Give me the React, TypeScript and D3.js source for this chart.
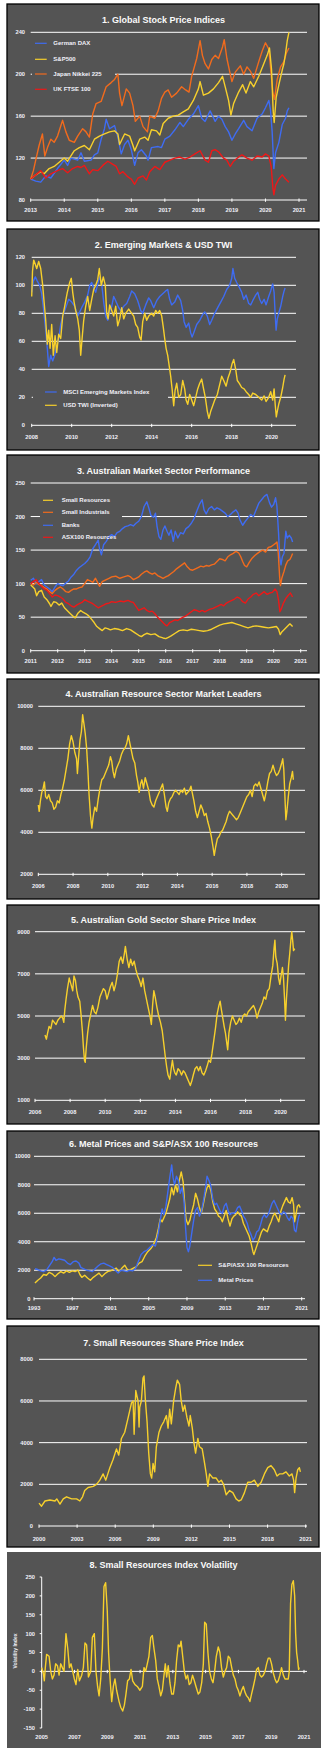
import React from 'react';
import * as d3 from 'd3';

type Pt = [number, number];

// ---------- Panel 1: Global stock price indices ----------
const p1Years = [2013, 2014, 2015, 2016, 2017, 2018, 2019, 2020, 2021];
const p1Ticks = [80, 120, 160, 200, 240];
const daxData: Pt[] = [[2013.0,100],[2013.15,98],[2013.3,97],[2013.45,103],[2013.6,101],[2013.8,110],[2014.0,118],[2014.1,113],[2014.2,120],[2014.4,118],[2014.5,125],[2014.6,117],[2014.8,118],[2014.9,123],[2015.0,125],[2015.1,138],[2015.2,148],[2015.25,157],[2015.35,148],[2015.5,151],[2015.6,140],[2015.7,124],[2015.8,133],[2015.9,137],[2016.0,128],[2016.1,113],[2016.2,125],[2016.3,128],[2016.45,122],[2016.5,118],[2016.6,130],[2016.8,131],[2016.9,130],[2017.0,138],[2017.15,141],[2017.3,147],[2017.45,154],[2017.55,150],[2017.7,157],[2017.85,162],[2018.0,170],[2018.1,158],[2018.2,155],[2018.35,165],[2018.5,155],[2018.6,160],[2018.7,157],[2018.8,150],[2018.9,145],[2019.0,137],[2019.1,143],[2019.2,148],[2019.35,156],[2019.45,150],[2019.6,146],[2019.75,158],[2019.9,162],[2020.0,168],[2020.1,175],[2020.15,166],[2020.2,145],[2020.25,110],[2020.3,125],[2020.4,135],[2020.5,152],[2020.6,158],[2020.65,165],[2020.7,168]];
const spxData: Pt[] = [[2013.0,100],[2013.15,104],[2013.3,107],[2013.4,105],[2013.55,110],[2013.7,112],[2013.85,116],[2014.0,120],[2014.1,117],[2014.3,127],[2014.45,130],[2014.6,132],[2014.75,128],[2014.9,138],[2015.05,141],[2015.2,143],[2015.35,145],[2015.5,146],[2015.6,143],[2015.65,133],[2015.8,143],[2015.95,141],[2016.05,132],[2016.1,127],[2016.25,138],[2016.4,140],[2016.5,137],[2016.6,147],[2016.75,146],[2016.85,142],[2016.95,153],[2017.1,158],[2017.25,160],[2017.4,161],[2017.55,164],[2017.7,167],[2017.85,175],[2018.0,186],[2018.05,193],[2018.15,180],[2018.3,182],[2018.45,186],[2018.6,192],[2018.72,198],[2018.8,188],[2018.9,175],[2018.97,161],[2019.05,172],[2019.2,183],[2019.32,190],[2019.42,182],[2019.55,193],[2019.65,188],[2019.8,198],[2019.95,210],[2020.05,218],[2020.12,225],[2020.18,205],[2020.23,165],[2020.26,154],[2020.32,178],[2020.4,190],[2020.5,204],[2020.55,210],[2020.6,220],[2020.65,232],[2020.7,240]];
const nikkeiData: Pt[] = [[2013.0,100],[2013.08,108],[2013.15,118],[2013.25,132],[2013.35,143],[2013.42,122],[2013.5,130],[2013.6,138],[2013.7,135],[2013.8,141],[2013.95,156],[2014.05,145],[2014.15,137],[2014.3,135],[2014.4,141],[2014.55,148],[2014.65,145],[2014.75,140],[2014.85,162],[2014.95,172],[2015.1,174],[2015.25,188],[2015.4,192],[2015.5,195],[2015.6,200],[2015.65,182],[2015.72,170],[2015.85,186],[2015.95,182],[2016.05,170],[2016.12,155],[2016.25,160],[2016.35,150],[2016.48,145],[2016.55,160],[2016.7,158],[2016.8,165],[2016.9,177],[2017.0,183],[2017.1,185],[2017.2,178],[2017.35,182],[2017.5,188],[2017.62,185],[2017.72,183],[2017.8,198],[2017.95,215],[2018.05,232],[2018.12,218],[2018.2,210],[2018.3,205],[2018.4,214],[2018.5,218],[2018.6,215],[2018.72,226],[2018.77,233],[2018.85,215],[2018.95,200],[2019.0,193],[2019.1,202],[2019.25,208],[2019.35,200],[2019.45,207],[2019.55,203],[2019.65,196],[2019.8,212],[2019.9,222],[2020.0,230],[2020.1,224],[2020.17,200],[2020.22,183],[2020.27,176],[2020.35,195],[2020.45,207],[2020.55,212],[2020.62,220],[2020.7,225]];
const ftseData: Pt[] = [[2013.0,100],[2013.15,104],[2013.3,108],[2013.45,101],[2013.6,105],[2013.8,108],[2013.95,110],[2014.1,106],[2014.25,110],[2014.4,112],[2014.5,111],[2014.6,113],[2014.75,105],[2014.85,109],[2015.0,108],[2015.15,113],[2015.3,117],[2015.45,114],[2015.55,112],[2015.65,105],[2015.75,107],[2015.9,102],[2016.0,100],[2016.1,95],[2016.2,101],[2016.35,103],[2016.45,99],[2016.55,107],[2016.7,112],[2016.85,109],[2017.0,116],[2017.15,118],[2017.3,120],[2017.45,121],[2017.6,119],[2017.75,121],[2017.9,124],[2018.05,127],[2018.2,118],[2018.3,116],[2018.4,127],[2018.5,128],[2018.6,126],[2018.75,120],[2018.85,118],[2018.95,112],[2019.05,117],[2019.2,121],[2019.3,123],[2019.45,120],[2019.6,118],[2019.75,122],[2019.9,121],[2020.0,124],[2020.1,122],[2020.17,112],[2020.22,92],[2020.25,85],[2020.3,94],[2020.4,100],[2020.5,104],[2020.6,100],[2020.7,97]];

// ---------- Panel 2: Emerging markets & USD TWI ----------
const p2Years = [2008, 2010, 2012, 2014, 2016, 2018, 2020];
const p2Ticks = [0, 20, 40, 60, 80, 100, 120];
const msciData: Pt[] = [[2008.0,95],[2008.08,103],[2008.18,106],[2008.28,103],[2008.4,100],[2008.5,94],[2008.6,82],[2008.7,68],[2008.78,55],[2008.85,42],[2008.95,50],[2009.05,46],[2009.15,50],[2009.25,56],[2009.35,62],[2009.45,72],[2009.55,78],[2009.7,84],[2009.85,90],[2010.0,88],[2010.15,85],[2010.3,78],[2010.4,81],[2010.5,84],[2010.65,88],[2010.8,93],[2010.9,100],[2011.0,102],[2011.1,98],[2011.2,95],[2011.3,101],[2011.4,106],[2011.5,101],[2011.6,88],[2011.7,78],[2011.8,75],[2011.9,82],[2012.0,85],[2012.1,92],[2012.2,89],[2012.35,84],[2012.45,82],[2012.6,85],[2012.75,87],[2012.9,92],[2013.0,96],[2013.15,94],[2013.3,89],[2013.45,82],[2013.55,80],[2013.7,86],[2013.85,91],[2013.95,89],[2014.1,84],[2014.25,89],[2014.4,92],[2014.55,94],[2014.7,96],[2014.8,97],[2014.9,90],[2015.0,86],[2015.15,88],[2015.3,93],[2015.45,89],[2015.55,82],[2015.62,74],[2015.72,70],[2015.85,73],[2015.95,66],[2016.02,63],[2016.1,66],[2016.25,72],[2016.4,75],[2016.55,79],[2016.65,81],[2016.78,78],[2016.9,72],[2017.0,75],[2017.15,80],[2017.3,84],[2017.45,88],[2017.6,92],[2017.75,97],[2017.9,100],[2018.0,105],[2018.06,112],[2018.15,105],[2018.25,102],[2018.4,98],[2018.5,95],[2018.6,90],[2018.72,93],[2018.85,87],[2018.95,86],[2019.05,89],[2019.2,93],[2019.3,95],[2019.4,90],[2019.5,87],[2019.62,90],[2019.72,86],[2019.85,92],[2019.95,96],[2020.05,101],[2020.12,95],[2020.17,80],[2020.22,68],[2020.28,76],[2020.35,80],[2020.45,85],[2020.55,92],[2020.62,96],[2020.67,98]];
const usdData: Pt[] = [[2008.0,92],[2008.04,110],[2008.1,118],[2008.18,115],[2008.25,112],[2008.35,117],[2008.45,112],[2008.55,100],[2008.62,88],[2008.7,75],[2008.78,58],[2008.85,68],[2008.92,55],[2009.0,72],[2009.08,50],[2009.17,64],[2009.25,52],[2009.35,65],[2009.45,62],[2009.55,78],[2009.65,85],[2009.78,95],[2009.9,102],[2009.98,105],[2010.05,95],[2010.12,88],[2010.2,82],[2010.3,76],[2010.38,68],[2010.45,50],[2010.52,62],[2010.6,75],[2010.7,85],[2010.8,92],[2010.9,82],[2011.0,90],[2011.1,97],[2011.2,100],[2011.3,104],[2011.38,112],[2011.48,100],[2011.58,106],[2011.68,100],[2011.75,80],[2011.82,76],[2011.9,86],[2012.0,82],[2012.1,78],[2012.2,85],[2012.3,71],[2012.4,76],[2012.5,84],[2012.6,76],[2012.7,80],[2012.85,83],[2013.0,80],[2013.1,78],[2013.2,72],[2013.3,70],[2013.4,63],[2013.47,61],[2013.55,74],[2013.65,80],[2013.75,75],[2013.85,78],[2014.0,80],[2014.1,78],[2014.2,82],[2014.3,80],[2014.4,82],[2014.5,78],[2014.58,70],[2014.65,62],[2014.72,55],[2014.8,50],[2014.88,42],[2014.95,35],[2015.02,26],[2015.1,14],[2015.17,25],[2015.25,30],[2015.35,20],[2015.45,22],[2015.55,32],[2015.65,26],[2015.72,18],[2015.8,15],[2015.9,22],[2016.0,18],[2016.1,14],[2016.2,20],[2016.3,26],[2016.4,30],[2016.5,33],[2016.58,27],[2016.68,20],[2016.78,10],[2016.86,5],[2016.95,10],[2017.05,14],[2017.15,18],[2017.28,22],[2017.38,28],[2017.5,35],[2017.6,32],[2017.72,28],[2017.82,34],[2017.92,38],[2018.02,44],[2018.1,47],[2018.2,40],[2018.28,32],[2018.38,30],[2018.5,27],[2018.62,26],[2018.72,24],[2018.85,22],[2018.95,20],[2019.05,23],[2019.2,22],[2019.35,20],[2019.5,18],[2019.62,21],[2019.72,17],[2019.85,20],[2019.95,24],[2020.05,18],[2020.12,26],[2020.18,14],[2020.23,6],[2020.28,10],[2020.35,15],[2020.45,20],[2020.55,27],[2020.62,33],[2020.67,36]];

// ---------- Panel 3: Australian market sectors ----------
const p3Years = [2011, 2012, 2013, 2014, 2015, 2016, 2017, 2018, 2019, 2020, 2021];
const p3Ticks = [0, 50, 100, 150, 200, 250];
const banksData: Pt[] = [[2011.0,105],[2011.1,108],[2011.2,100],[2011.3,103],[2011.4,106],[2011.5,98],[2011.6,95],[2011.7,92],[2011.8,88],[2011.9,95],[2012.0,100],[2012.1,98],[2012.2,97],[2012.3,101],[2012.4,104],[2012.5,110],[2012.6,114],[2012.7,120],[2012.8,124],[2012.9,127],[2013.0,130],[2013.1,134],[2013.2,140],[2013.3,152],[2013.4,158],[2013.5,165],[2013.55,152],[2013.62,143],[2013.7,158],[2013.8,163],[2013.9,170],[2014.0,173],[2014.1,170],[2014.2,176],[2014.3,178],[2014.4,182],[2014.5,185],[2014.6,186],[2014.7,188],[2014.8,186],[2014.9,190],[2015.0,193],[2015.1,200],[2015.2,215],[2015.3,222],[2015.38,212],[2015.45,202],[2015.55,199],[2015.62,205],[2015.68,185],[2015.75,170],[2015.82,166],[2015.9,180],[2015.97,186],[2016.05,178],[2016.12,172],[2016.2,180],[2016.28,163],[2016.35,178],[2016.45,168],[2016.55,176],[2016.65,174],[2016.75,182],[2016.85,185],[2016.95,190],[2017.05,197],[2017.15,208],[2017.25,218],[2017.35,225],[2017.42,210],[2017.5,204],[2017.6,212],[2017.7,215],[2017.8,210],[2017.9,213],[2018.0,211],[2018.1,208],[2018.2,205],[2018.3,200],[2018.4,203],[2018.5,207],[2018.6,210],[2018.68,205],[2018.75,195],[2018.85,187],[2018.95,193],[2019.05,198],[2019.15,203],[2019.25,200],[2019.35,210],[2019.45,220],[2019.55,225],[2019.65,230],[2019.75,233],[2019.85,220],[2019.92,214],[2020.0,218],[2020.07,228],[2020.12,215],[2020.18,175],[2020.22,140],[2020.27,128],[2020.32,140],[2020.38,145],[2020.45,178],[2020.5,168],[2020.58,172],[2020.65,168],[2020.7,162]];
const smallIndData: Pt[] = [[2011.0,100],[2011.1,98],[2011.2,102],[2011.3,99],[2011.4,97],[2011.5,94],[2011.6,92],[2011.7,88],[2011.8,85],[2011.9,90],[2012.0,93],[2012.1,95],[2012.2,92],[2012.3,88],[2012.4,87],[2012.5,90],[2012.6,92],[2012.7,92],[2012.8,94],[2012.9,95],[2013.0,100],[2013.1,106],[2013.2,104],[2013.3,102],[2013.4,108],[2013.5,100],[2013.55,96],[2013.65,103],[2013.8,106],[2013.9,108],[2014.0,110],[2014.15,111],[2014.3,108],[2014.45,110],[2014.6,112],[2014.7,110],[2014.8,106],[2014.9,108],[2015.0,110],[2015.1,114],[2015.2,117],[2015.3,119],[2015.4,116],[2015.5,114],[2015.6,116],[2015.7,112],[2015.8,110],[2015.9,108],[2016.0,110],[2016.1,112],[2016.2,115],[2016.3,118],[2016.4,122],[2016.5,125],[2016.6,128],[2016.7,131],[2016.8,125],[2016.9,121],[2017.0,120],[2017.1,122],[2017.2,124],[2017.3,126],[2017.4,125],[2017.5,127],[2017.6,126],[2017.7,128],[2017.8,129],[2017.9,133],[2018.0,137],[2018.1,136],[2018.2,134],[2018.3,140],[2018.4,143],[2018.5,145],[2018.6,148],[2018.7,146],[2018.78,140],[2018.85,133],[2018.92,127],[2019.0,125],[2019.1,132],[2019.2,138],[2019.3,142],[2019.4,145],[2019.5,148],[2019.6,150],[2019.7,147],[2019.8,154],[2019.9,155],[2020.0,158],[2020.07,160],[2020.12,162],[2020.17,145],[2020.22,110],[2020.25,97],[2020.3,108],[2020.38,118],[2020.45,128],[2020.52,134],[2020.6,136],[2020.65,140],[2020.7,145]];
const asxResData: Pt[] = [[2011.0,100],[2011.1,103],[2011.2,106],[2011.3,100],[2011.4,96],[2011.5,92],[2011.6,90],[2011.7,85],[2011.8,80],[2011.9,83],[2012.0,82],[2012.1,80],[2012.2,77],[2012.3,72],[2012.4,70],[2012.5,67],[2012.6,65],[2012.7,68],[2012.8,70],[2012.9,72],[2013.0,76],[2013.1,74],[2013.2,72],[2013.3,70],[2013.4,67],[2013.5,64],[2013.6,66],[2013.7,68],[2013.8,70],[2013.9,71],[2014.0,73],[2014.15,72],[2014.3,74],[2014.45,73],[2014.6,75],[2014.7,73],[2014.8,72],[2014.9,66],[2015.0,60],[2015.1,62],[2015.2,64],[2015.3,60],[2015.4,58],[2015.5,59],[2015.6,55],[2015.7,50],[2015.8,46],[2015.9,42],[2016.0,38],[2016.05,37],[2016.15,42],[2016.25,44],[2016.35,46],[2016.45,45],[2016.55,48],[2016.65,50],[2016.75,52],[2016.85,55],[2016.95,58],[2017.05,61],[2017.15,60],[2017.25,58],[2017.35,60],[2017.45,58],[2017.55,60],[2017.65,62],[2017.75,63],[2017.85,65],[2017.95,67],[2018.05,69],[2018.15,67],[2018.25,71],[2018.35,73],[2018.45,75],[2018.55,77],[2018.65,80],[2018.75,78],[2018.85,73],[2018.95,71],[2019.05,77],[2019.15,80],[2019.25,84],[2019.35,86],[2019.45,82],[2019.55,85],[2019.65,88],[2019.75,84],[2019.85,86],[2019.95,87],[2020.05,92],[2020.12,88],[2020.18,75],[2020.23,58],[2020.28,62],[2020.35,70],[2020.45,78],[2020.55,83],[2020.62,86],[2020.7,80]];
const smallResData: Pt[] = [[2011.0,98],[2011.08,95],[2011.15,92],[2011.22,82],[2011.3,88],[2011.4,90],[2011.5,80],[2011.6,76],[2011.7,70],[2011.75,66],[2011.85,73],[2011.95,72],[2012.05,68],[2012.15,71],[2012.25,64],[2012.35,60],[2012.45,56],[2012.55,52],[2012.65,49],[2012.75,56],[2012.85,60],[2012.95,57],[2013.05,55],[2013.15,52],[2013.25,47],[2013.35,42],[2013.45,36],[2013.55,33],[2013.65,30],[2013.75,34],[2013.85,33],[2013.95,31],[2014.1,33],[2014.25,32],[2014.4,30],[2014.55,33],[2014.7,31],[2014.85,27],[2015.0,23],[2015.1,21],[2015.2,24],[2015.3,26],[2015.45,24],[2015.6,25],[2015.75,21],[2015.9,19],[2016.0,18],[2016.1,20],[2016.2,22],[2016.35,26],[2016.5,30],[2016.65,31],[2016.8,30],[2016.95,32],[2017.1,31],[2017.25,30],[2017.4,29],[2017.55,30],[2017.7,32],[2017.85,35],[2018.0,38],[2018.15,40],[2018.3,41],[2018.45,42],[2018.6,40],[2018.75,38],[2018.9,36],[2019.05,34],[2019.2,36],[2019.35,37],[2019.5,36],[2019.65,35],[2019.8,34],[2019.95,35],[2020.1,36],[2020.18,32],[2020.24,24],[2020.3,28],[2020.4,32],[2020.5,36],[2020.6,40],[2020.7,36]];

// ---------- Panel 4: Resource sector market leaders ----------
const p4Years = [2006, 2008, 2010, 2012, 2014, 2016, 2018, 2020];
const p4Ticks = [2000, 4000, 6000, 8000, 10000];
const leadersData: Pt[] = [[2006.0,5300],[2006.05,5000],[2006.12,5500],[2006.2,5900],[2006.28,6100],[2006.35,6400],[2006.42,5700],[2006.5,5600],[2006.6,5800],[2006.7,5500],[2006.8,5400],[2006.9,5100],[2007.0,5200],[2007.1,5500],[2007.2,5400],[2007.3,5800],[2007.4,6100],[2007.5,6500],[2007.6,7000],[2007.7,7500],[2007.8,8200],[2007.9,8600],[2008.0,8300],[2008.1,7800],[2008.2,7500],[2008.25,6800],[2008.32,7600],[2008.4,8400],[2008.48,8800],[2008.55,9600],[2008.62,9200],[2008.7,8700],[2008.78,8000],[2008.85,7000],[2008.92,5800],[2009.0,4800],[2009.08,4200],[2009.15,4700],[2009.25,5200],[2009.35,5000],[2009.45,5600],[2009.55,6100],[2009.65,6500],[2009.75,6600],[2009.85,6800],[2009.95,7000],[2010.05,7200],[2010.15,7600],[2010.22,7400],[2010.3,6900],[2010.38,6600],[2010.48,7000],[2010.58,7200],[2010.68,7400],[2010.78,7700],[2010.88,7900],[2010.98,8000],[2011.08,8200],[2011.18,8600],[2011.25,8300],[2011.35,7900],[2011.45,7500],[2011.55,7300],[2011.65,6700],[2011.72,6400],[2011.8,5900],[2011.88,6300],[2011.96,6500],[2012.05,6100],[2012.15,6600],[2012.25,6300],[2012.35,6000],[2012.45,5500],[2012.55,5300],[2012.65,5200],[2012.75,5500],[2012.85,5700],[2012.95,5900],[2013.05,6100],[2013.15,6300],[2013.25,5800],[2013.35,5200],[2013.42,5000],[2013.5,5400],[2013.6,5600],[2013.7,5700],[2013.8,5900],[2013.9,6000],[2014.0,5900],[2014.1,5800],[2014.2,6000],[2014.3,5900],[2014.4,6100],[2014.5,5800],[2014.6,5900],[2014.7,6000],[2014.78,6200],[2014.85,5900],[2014.95,5500],[2015.05,5000],[2015.15,4700],[2015.25,5000],[2015.35,5300],[2015.45,5100],[2015.55,4800],[2015.65,4900],[2015.75,4500],[2015.85,4200],[2015.95,3800],[2016.05,3300],[2016.12,2900],[2016.2,3300],[2016.3,3700],[2016.4,3800],[2016.5,4000],[2016.6,4100],[2016.7,4300],[2016.8,4500],[2016.9,4800],[2017.0,5000],[2017.1,4900],[2017.2,4800],[2017.3,4700],[2017.4,4600],[2017.5,4700],[2017.6,4900],[2017.7,5100],[2017.8,5300],[2017.9,5500],[2018.0,5700],[2018.1,5800],[2018.2,6000],[2018.3,5700],[2018.4,6200],[2018.5,6300],[2018.6,6200],[2018.7,6400],[2018.8,6100],[2018.9,5800],[2019.0,5500],[2019.1,5900],[2019.2,6400],[2019.3,6800],[2019.4,6900],[2019.5,7200],[2019.6,6900],[2019.7,6700],[2019.8,6800],[2019.9,7000],[2020.0,7300],[2020.06,7500],[2020.12,7000],[2020.18,5800],[2020.24,4600],[2020.3,5000],[2020.38,5700],[2020.46,6300],[2020.55,6600],[2020.62,6900],[2020.67,6500]];

// ---------- Panel 5: Gold sector ----------
const p5Years = [2006, 2008, 2010, 2012, 2014, 2016, 2018, 2020];
const p5Ticks = [1000, 3000, 5000, 7000, 9000];
const goldData: Pt[] = [[2006.57,4100],[2006.65,3900],[2006.72,4200],[2006.8,4500],[2006.9,4400],[2007.0,4800],[2007.1,4700],[2007.2,4600],[2007.3,4800],[2007.4,4900],[2007.5,5000],[2007.58,4900],[2007.64,4700],[2007.7,5300],[2007.77,5800],[2007.85,6300],[2007.95,6800],[2008.05,6500],[2008.15,6200],[2008.22,6900],[2008.3,6700],[2008.38,6200],[2008.45,5900],[2008.55,5700],[2008.62,5100],[2008.7,4300],[2008.76,3500],[2008.82,2900],[2008.86,2800],[2008.92,3500],[2009.0,4200],[2009.08,4700],[2009.18,5100],[2009.28,5500],[2009.38,5200],[2009.48,5100],[2009.58,5400],[2009.7,5900],[2009.8,6100],[2009.9,6300],[2010.0,6200],[2010.1,5800],[2010.2,6100],[2010.3,6400],[2010.4,6600],[2010.5,6200],[2010.6,6500],[2010.7,7000],[2010.8,7600],[2010.9,7800],[2011.0,7500],[2011.1,8000],[2011.15,8300],[2011.25,7700],[2011.35,7300],[2011.45,7700],[2011.55,7400],[2011.65,7600],[2011.75,7200],[2011.85,6900],[2011.95,6700],[2012.05,6400],[2012.15,6800],[2012.25,6200],[2012.35,5800],[2012.45,5400],[2012.55,5000],[2012.63,4600],[2012.7,5500],[2012.77,6200],[2012.85,5900],[2012.95,5400],[2013.05,5000],[2013.15,4700],[2013.25,4300],[2013.35,3600],[2013.42,3100],[2013.5,2600],[2013.58,2200],[2013.68,2000],[2013.76,2500],[2013.83,2900],[2013.9,2500],[2013.97,2300],[2014.05,2200],[2014.15,2500],[2014.25,2400],[2014.35,2200],[2014.45,2400],[2014.55,2300],[2014.65,2100],[2014.75,1900],[2014.85,1700],[2014.93,1900],[2015.02,2200],[2015.12,2500],[2015.22,2600],[2015.32,2400],[2015.42,2600],[2015.52,2300],[2015.62,2200],[2015.72,2400],[2015.8,2600],[2015.9,2900],[2016.0,2800],[2016.08,3200],[2016.18,3800],[2016.28,4400],[2016.38,5100],[2016.48,5500],[2016.55,5700],[2016.62,5300],[2016.7,4900],[2016.78,4500],[2016.85,4200],[2016.93,3700],[2016.98,3400],[2017.05,4200],[2017.15,4700],[2017.25,5000],[2017.35,4800],[2017.45,4600],[2017.55,4700],[2017.65,4900],[2017.75,4700],[2017.85,5000],[2017.95,5100],[2018.05,5000],[2018.15,5200],[2018.25,5300],[2018.35,5400],[2018.45,5500],[2018.55,5300],[2018.65,4900],[2018.75,5200],[2018.85,5400],[2018.95,5600],[2019.05,5900],[2019.15,5800],[2019.25,6200],[2019.35,6300],[2019.45,6900],[2019.55,7400],[2019.62,8200],[2019.67,8600],[2019.72,7800],[2019.8,7500],[2019.88,6800],[2019.95,6500],[2020.02,6900],[2020.1,7300],[2020.16,6800],[2020.22,5800],[2020.27,4800],[2020.32,5700],[2020.38,6500],[2020.45,7400],[2020.52,8000],[2020.58,8600],[2020.63,9000],[2020.68,8600],[2020.73,8100],[2020.8,8200]];

// ---------- Panel 6: Metal prices & S&P/ASX 100 Resources ----------
const p6Years = [1993, 1997, 2001, 2005, 2009, 2013, 2017, 2021];
const p6Ticks = [0, 2000, 4000, 6000, 8000, 10000];
const asx100ResData: Pt[] = [[1993.1,1100],[1993.4,1300],[1993.7,1450],[1994.0,1700],[1994.3,1650],[1994.6,1850],[1994.9,1750],[1995.2,1550],[1995.5,1750],[1995.8,1900],[1996.1,1800],[1996.4,1950],[1996.7,1850],[1997.0,1950],[1997.3,1900],[1997.6,2000],[1997.8,1700],[1998.0,1500],[1998.3,1650],[1998.6,1450],[1998.9,1300],[1999.2,1500],[1999.5,1650],[1999.8,1800],[2000.1,1550],[2000.4,1750],[2000.7,1900],[2001.0,1950],[2001.3,2050],[2001.6,2150],[2001.9,1900],[2002.2,2150],[2002.5,2350],[2002.8,2000],[2003.1,2050],[2003.4,2150],[2003.7,2250],[2004.0,2500],[2004.3,2600],[2004.6,3000],[2004.9,3300],[2005.2,3500],[2005.5,3800],[2005.8,4300],[2006.0,4900],[2006.2,5600],[2006.4,5400],[2006.6,5700],[2006.8,6000],[2007.0,6500],[2007.2,7000],[2007.4,7800],[2007.6,7300],[2007.8,8000],[2008.0,7500],[2008.2,8300],[2008.4,8900],[2008.6,8200],[2008.75,6800],[2008.9,5600],[2009.1,5200],[2009.3,5500],[2009.5,6100],[2009.7,6600],[2009.9,7400],[2010.1,7000],[2010.3,6400],[2010.5,6000],[2010.7,6600],[2010.9,7300],[2011.1,7800],[2011.3,8000],[2011.5,7600],[2011.7,6800],[2011.9,6300],[2012.1,6100],[2012.3,5800],[2012.5,5700],[2012.7,5400],[2012.9,5800],[2013.1,6200],[2013.3,5600],[2013.5,5100],[2013.7,5600],[2013.9,5800],[2014.1,5900],[2014.3,6100],[2014.5,5900],[2014.7,5800],[2014.9,5300],[2015.1,5000],[2015.3,4700],[2015.5,4400],[2015.7,3900],[2015.9,3300],[2016.0,3100],[2016.2,3500],[2016.4,3900],[2016.6,4300],[2016.8,4700],[2017.0,4900],[2017.2,4800],[2017.4,4700],[2017.6,5100],[2017.8,5400],[2018.0,5800],[2018.2,6000],[2018.4,5700],[2018.6,5400],[2018.8,6100],[2019.0,6500],[2019.2,6800],[2019.4,7100],[2019.6,6800],[2019.8,6700],[2020.0,7100],[2020.15,6600],[2020.25,5400],[2020.4,5900],[2020.55,6500],[2020.7,6600],[2020.85,6400]];
const metalData: Pt[] = [[1993.1,2100],[1993.4,2050],[1993.7,1950],[1994.0,1900],[1994.3,2000],[1994.6,2300],[1994.9,2600],[1995.1,2900],[1995.3,2700],[1995.6,2800],[1995.9,2750],[1996.2,2700],[1996.5,2500],[1996.8,2400],[1997.1,2600],[1997.4,2650],[1997.7,2500],[1997.9,2200],[1998.2,2100],[1998.5,2000],[1998.8,1950],[1999.1,1900],[1999.4,2100],[1999.7,2300],[2000.0,2450],[2000.3,2500],[2000.6,2400],[2000.9,2300],[2001.2,2200],[2001.5,2000],[2001.8,1800],[2002.1,2000],[2002.4,1950],[2002.7,1900],[2003.0,2000],[2003.3,1950],[2003.6,2100],[2003.9,2600],[2004.2,3100],[2004.5,3300],[2004.8,3400],[2005.1,3600],[2005.4,3800],[2005.7,3700],[2006.0,4600],[2006.2,5500],[2006.4,6300],[2006.6,5900],[2006.8,6500],[2007.0,7500],[2007.2,8500],[2007.4,9400],[2007.55,8500],[2007.7,8000],[2007.9,8600],[2008.1,8300],[2008.3,7400],[2008.5,7800],[2008.7,6800],[2008.85,5000],[2009.0,3600],[2009.15,3300],[2009.3,3700],[2009.5,4600],[2009.7,5500],[2009.9,6200],[2010.1,6400],[2010.3,5800],[2010.5,6100],[2010.7,6800],[2010.9,7600],[2011.1,8600],[2011.3,8300],[2011.5,7900],[2011.7,7000],[2011.9,6600],[2012.1,6700],[2012.3,6400],[2012.5,6100],[2012.7,6000],[2012.9,6500],[2013.1,6700],[2013.3,6200],[2013.5,5900],[2013.7,6000],[2013.9,6000],[2014.1,6100],[2014.3,6400],[2014.5,6500],[2014.7,6200],[2014.9,5800],[2015.1,5600],[2015.3,5300],[2015.5,4800],[2015.7,4500],[2015.9,4100],[2016.1,4300],[2016.3,4700],[2016.5,4800],[2016.7,5200],[2016.9,5700],[2017.1,5900],[2017.3,5700],[2017.5,5900],[2017.7,6300],[2017.9,6700],[2018.1,6900],[2018.3,6600],[2018.5,6300],[2018.7,6000],[2018.9,5900],[2019.1,6100],[2019.3,6000],[2019.5,5700],[2019.7,5500],[2019.9,5800],[2020.1,5600],[2020.25,4800],[2020.4,4700],[2020.55,5300],[2020.7,5800],[2020.8,5900]];

// ---------- Panel 7: Small resources share price index ----------
const p7Years = [2000, 2003, 2006, 2009, 2012, 2015, 2018, 2021];
const p7Ticks = [0, 2000, 4000, 6000, 8000];
const smallResIdxData: Pt[] = [[2000.0,1100],[2000.2,950],[2000.47,1200],[2000.86,1250],[2001.26,1200],[2001.4,1300],[2001.65,1050],[2001.91,1300],[2002.17,1400],[2002.57,1300],[2002.96,1300],[2003.22,1200],[2003.43,1400],[2003.6,1700],[2003.87,1850],[2004.27,1900],[2004.53,2000],[2004.79,2200],[2005.05,2500],[2005.26,2200],[2005.58,2800],[2005.84,3200],[2006.1,3700],[2006.28,3400],[2006.49,4200],[2006.75,4500],[2007.02,5200],[2007.28,5900],[2007.41,6000],[2007.49,4400],[2007.62,6500],[2007.8,6000],[2007.88,4750],[2007.93,5700],[2008.06,6000],[2008.19,7100],[2008.27,7200],[2008.38,6000],[2008.51,5000],[2008.64,3500],[2008.77,2500],[2008.87,2300],[2008.98,3000],[2009.11,2600],[2009.24,3800],[2009.45,4500],[2009.63,4800],[2009.82,5000],[2010.03,5300],[2010.16,4700],[2010.29,5600],[2010.42,4900],[2010.6,6000],[2010.76,6600],[2010.89,7000],[2011.07,6800],[2011.2,6000],[2011.34,5500],[2011.47,5800],[2011.65,5200],[2011.81,4800],[2011.91,5300],[2012.07,4700],[2012.2,4000],[2012.33,3500],[2012.51,4200],[2012.64,3800],[2012.85,3700],[2013.04,3000],[2013.17,2500],[2013.3,1900],[2013.43,2500],[2013.69,2300],[2013.95,2300],[2014.16,2100],[2014.35,2200],[2014.53,2000],[2014.74,1500],[2015.0,1700],[2015.26,1600],[2015.52,1300],[2015.73,1200],[2015.92,1250],[2016.18,1600],[2016.44,2100],[2016.7,2100],[2016.96,2200],[2017.23,1900],[2017.49,2100],[2017.75,2500],[2018.01,2800],[2018.27,2900],[2018.53,2700],[2018.74,2400],[2018.93,2500],[2019.19,2500],[2019.45,2600],[2019.71,2400],[2019.92,2500],[2020.05,2200],[2020.13,1600],[2020.24,2300],[2020.37,2700],[2020.5,2800],[2020.58,2600]];

// ---------- Panel 8: Small resources index volatility ----------
const p8Years = [2005, 2007, 2009, 2011, 2013, 2015, 2017, 2019, 2021];
const p8Ticks = [-150, -100, -50, 0, 50, 100, 150, 200, 250];
const volData: Pt[] = [[2005.0,10],[2005.1,-5],[2005.16,-25],[2005.22,10],[2005.3,45],[2005.45,40],[2005.55,0],[2005.65,-20],[2005.75,-10],[2005.85,20],[2005.96,15],[2006.06,-10],[2006.16,20],[2006.26,10],[2006.36,0],[2006.48,100],[2006.59,60],[2006.69,10],[2006.79,20],[2006.89,0],[2006.99,-20],[2007.09,-35],[2007.2,5],[2007.3,-25],[2007.44,-10],[2007.54,10],[2007.64,75],[2007.74,70],[2007.85,-15],[2007.99,0],[2008.09,90],[2008.21,100],[2008.31,0],[2008.41,-40],[2008.5,-65],[2008.6,-20],[2008.7,60],[2008.8,225],[2008.9,235],[2009.0,160],[2009.08,50],[2009.17,-20],[2009.27,-80],[2009.37,-40],[2009.47,-20],[2009.57,-50],[2009.72,-80],[2009.82,-95],[2009.94,-105],[2010.04,-90],[2010.14,-60],[2010.24,-25],[2010.35,-20],[2010.45,5],[2010.55,-25],[2010.69,-35],[2010.83,-40],[2010.99,-50],[2011.14,-40],[2011.24,10],[2011.34,0],[2011.44,20],[2011.54,40],[2011.65,90],[2011.75,95],[2011.85,60],[2011.95,30],[2012.05,-20],[2012.15,-40],[2012.26,-65],[2012.36,-50],[2012.46,-10],[2012.54,20],[2012.62,-15],[2012.72,15],[2012.82,-30],[2012.93,-60],[2013.03,-60],[2013.13,-30],[2013.23,30],[2013.33,70],[2013.43,65],[2013.5,80],[2013.6,40],[2013.7,0],[2013.8,-20],[2013.9,-10],[2014.0,-35],[2014.1,-30],[2014.2,-10],[2014.31,-25],[2014.41,-40],[2014.55,-60],[2014.65,-55],[2014.76,-30],[2014.86,20],[2014.94,130],[2015.04,125],[2015.14,50],[2015.24,0],[2015.35,-20],[2015.45,-30],[2015.55,0],[2015.65,40],[2015.77,65],[2015.87,50],[2015.97,10],[2016.08,-15],[2016.18,0],[2016.28,10],[2016.38,40],[2016.48,35],[2016.59,10],[2016.69,-10],[2016.79,-20],[2016.89,-40],[2016.99,-50],[2017.09,-65],[2017.2,-50],[2017.3,-40],[2017.4,-55],[2017.5,-65],[2017.6,-70],[2017.7,-80],[2017.8,-60],[2017.91,-40],[2018.01,-20],[2018.11,5],[2018.21,10],[2018.31,-10],[2018.41,-15],[2018.52,-10],[2018.62,0],[2018.72,20],[2018.82,35],[2018.92,35],[2019.02,20],[2019.13,-5],[2019.23,-20],[2019.33,-30],[2019.43,-25],[2019.53,-10],[2019.63,10],[2019.74,-10],[2019.84,-20],[2019.94,-20],[2020.04,-20],[2020.1,0],[2020.18,180],[2020.26,230],[2020.35,240],[2020.43,200],[2020.49,100],[2020.55,50],[2020.61,30],[2020.67,5],[2020.71,10]];

const BG = '#545454';
const TXT = '#f0f0f8';
const FONT = '"Liberation Sans", Arial, sans-serif';
const BLUE = '#3f6cf2';
const YELLOW = '#f7d02c';
const ORANGE = '#f26b1d';
const RED = '#ee1818';

interface SeriesDef { data: Pt[]; color: string }
interface LegendDef { label: string; color: string; y: number }
interface PanelProps {
  box: [number, number, number, number];
  border?: boolean;
  title: string;
  titleY: number;
  xDomain: [number, number];
  xRange: [number, number];
  yDomain: [number, number];
  yRange: [number, number];
  gridEnd: number;
  xTicks: number[];
  yTicks: number[];
  yLabelX: number;
  xLabelY: number;
  series: SeriesDef[];
  legend?: LegendDef[];
  legendSym?: [number, number, number];
  legendBox?: [number, number, number, number];
  volatility?: boolean;
}

function Panel(p: PanelProps) {
  const x = d3.scaleLinear().domain(p.xDomain).range(p.xRange);
  const y = d3.scaleLinear().domain(p.yDomain).range(p.yRange);
  const line = d3.line<Pt>().x(d => x(d[0])).y(d => y(d[1]));
  const gx0 = x(p.xTicks[0]);
  const axisY = p.volatility ? y(0) : y(p.yDomain[0]);
  const [bx, by, bw, bh] = p.box;
  return (
    <g>
      <rect x={bx} y={by} width={bw} height={bh} fill={BG}
        stroke={p.border === false ? 'none' : '#000'} strokeWidth={1.3} />
      <text x={163.5} y={p.titleY} textAnchor="middle" dy="0.35em" fill="#fafafa"
        fontFamily={FONT} fontWeight="bold" fontSize={9}>{p.title}</text>
      {!p.volatility && p.yTicks.map(t => (
        <line key={'g' + t} x1={gx0} x2={p.gridEnd} y1={y(t)} y2={y(t)} stroke="#fff" strokeWidth={1} />
      ))}
      {p.volatility && (
        <g>
          <line x1={gx0} x2={gx0} y1={y(p.yDomain[1])} y2={y(p.yDomain[0])} stroke="#fff" strokeWidth={1} />
          {p.yTicks.map(t => (
            <line key={'yt' + t} x1={gx0 - 2} x2={gx0} y1={y(t)} y2={y(t)} stroke="#fff" strokeWidth={1} />
          ))}
          <line x1={gx0} x2={p.gridEnd} y1={axisY} y2={axisY} stroke="#fff" strokeWidth={1} />
        </g>
      )}
      {p.xTicks.map(t => (
        <line key={'xt' + t} x1={x(t)} x2={x(t)} y1={axisY - 1.5} y2={axisY + 1.8} stroke="#fff" strokeWidth={1} />
      ))}
      {p.yTicks.map(t => (
        <text key={'yl' + t} x={p.yLabelX} y={y(t)} dy="0.35em" textAnchor="end" fill={TXT}
          fontFamily={FONT} fontWeight="bold" fontSize={5.7}>{t}</text>
      ))}
      {p.xTicks.map(t => (
        <text key={'xl' + t} x={x(t)} y={p.xLabelY} dy="0.35em" textAnchor="middle" fill={TXT}
          fontFamily={FONT} fontWeight="bold" fontSize={5.7}>{t}</text>
      ))}
      {p.legendBox && (
        <rect x={p.legendBox[0]} y={p.legendBox[1]} width={p.legendBox[2]} height={p.legendBox[3]} fill={BG} />
      )}
      {p.series.map((s, i) => (
        <path key={'s' + i} d={line(s.data) || ''} fill="none" stroke={s.color} strokeWidth={1.4}
          strokeLinejoin="round" />
      ))}
      {p.legend && p.legendSym && p.legend.map(l => (
        <g key={l.label}>
          <line x1={p.legendSym![0]} x2={p.legendSym![1]} y1={l.y} y2={l.y} stroke={l.color} strokeWidth={1.2} />
          <text x={p.legendSym![2]} y={l.y} dy="0.35em" fill={TXT} fontFamily={FONT}
            fontWeight="bold" fontSize={6}>{l.label}</text>
        </g>
      ))}
    </g>
  );
}

export default function App() {
  return (
    <svg width={327} height={1749} style={{ position: 'absolute', left: 0, top: 0 }}>
      <rect x={0} y={0} width={327} height={1749} fill="#fff" />
      <Panel box={[7, 4, 312, 217]} title="1.  Global Stock Price Indices" titleY={20}
        xDomain={[2013, 2021]} xRange={[30.7, 299]} yDomain={[80, 240]} yRange={[200, 32.3]}
        gridEnd={307} xTicks={p1Years} yTicks={p1Ticks} yLabelX={25} xLabelY={210}
        legendBox={[32, 36, 83, 60]} legendSym={[35, 46.7, 53.3]}
        legend={[
          { label: 'German DAX', color: BLUE, y: 43.3 },
          { label: 'S&P500', color: YELLOW, y: 59.3 },
          { label: 'Japan Nikkei 225', color: ORANGE, y: 74 },
          { label: 'UK FTSE 100', color: RED, y: 89.3 },
        ]}
        series={[
          { data: daxData, color: BLUE },
          { data: nikkeiData, color: ORANGE },
          { data: spxData, color: YELLOW },
          { data: ftseData, color: RED },
        ]} />
      <Panel box={[7, 229, 312, 221]} title="2. Emerging Markets & USD TWI" titleY={244.7}
        xDomain={[2008, 2020]} xRange={[31.7, 271.7]} yDomain={[0, 120]} yRange={[425.3, 257.3]}
        gridEnd={296} xTicks={p2Years} yTicks={p2Ticks} yLabelX={25} xLabelY={437}
        legendBox={[33, 385, 135, 27]} legendSym={[45, 56.7, 63.3]}
        legend={[
          { label: 'MSCI Emerging Markets Index', color: BLUE, y: 392 },
          { label: 'USD TWI (Inverted)', color: YELLOW, y: 405.3 },
        ]}
        series={[
          { data: msciData, color: BLUE },
          { data: usdData, color: YELLOW },
        ]} />
      <Panel box={[7, 455, 312, 218]} title="3.  Australian Market Sector Performance" titleY={470.7}
        xDomain={[2011, 2021]} xRange={[30.7, 300.7]} yDomain={[0, 250]} yRange={[650.7, 483]}
        gridEnd={307} xTicks={p3Years} yTicks={p3Ticks} yLabelX={25} xLabelY={661.3}
        legendBox={[40, 494, 82, 49]} legendSym={[43, 53, 61.7]}
        legend={[
          { label: 'Small Resources', color: YELLOW, y: 500.3 },
          { label: 'Small Industrials', color: ORANGE, y: 512.3 },
          { label: 'Banks', color: BLUE, y: 525.3 },
          { label: 'ASX100 Resources', color: RED, y: 537.3 },
        ]}
        series={[
          { data: banksData, color: BLUE },
          { data: smallIndData, color: ORANGE },
          { data: asxResData, color: RED },
          { data: smallResData, color: YELLOW },
        ]} />
      <Panel box={[7, 679, 312, 220]} title="4. Australian Resource Sector Market Leaders" titleY={694}
        xDomain={[2006, 2020]} xRange={[38.3, 281.7]} yDomain={[2000, 10000]} yRange={[874.3, 706.3]}
        gridEnd={305} xTicks={p4Years} yTicks={p4Ticks} yLabelX={33} xLabelY={885.7}
        series={[{ data: leadersData, color: YELLOW }]} />
      <Panel box={[7, 905, 312, 219]} title="5. Australian Gold Sector Share Price Index" titleY={920}
        xDomain={[2006, 2020]} xRange={[35, 280.7]} yDomain={[1000, 9000]} yRange={[1100.3, 931.7]}
        gridEnd={305} xTicks={p5Years} yTicks={p5Ticks} yLabelX={30} xLabelY={1111.7}
        series={[{ data: goldData, color: YELLOW }]} />
      <Panel box={[7, 1131, 312, 188]} title="6.  Metal Prices and S&P/ASX 100 Resources" titleY={1144.3}
        xDomain={[1993, 2021]} xRange={[34, 301.7]} yDomain={[0, 10000]} yRange={[1298.7, 1156.3]}
        gridEnd={305} xTicks={p6Years} yTicks={p6Ticks} yLabelX={30.5} xLabelY={1307.7}
        legendBox={[182, 1258, 123, 30]} legendSym={[198, 212, 218.3]}
        legend={[
          { label: 'S&P/ASX 100 Resources', color: YELLOW, y: 1265.3 },
          { label: 'Metal Prices', color: BLUE, y: 1280.3 },
        ]}
        series={[
          { data: asx100ResData, color: YELLOW },
          { data: metalData, color: BLUE },
        ]} />
      <Panel box={[7, 1326, 312, 221]} title="7. Small Resources Share Price Index" titleY={1342.7}
        xDomain={[2000, 2021]} xRange={[39, 305.7]} yDomain={[0, 8000]} yRange={[1526, 1359.3]}
        gridEnd={307} xTicks={p7Years} yTicks={p7Ticks} yLabelX={33} xLabelY={1538.7}
        series={[{ data: smallResIdxData, color: YELLOW }]} />
      <Panel box={[7, 1552, 314, 196]} border={false} title="8.  Small Resources Index Volatility" titleY={1565.3}
        xDomain={[2005, 2021]} xRange={[41.7, 304]} yDomain={[-150, 250]} yRange={[1728, 1577]}
        gridEnd={307} xTicks={p8Years} yTicks={p8Ticks} yLabelX={35} xLabelY={1737.3}
        volatility series={[{ data: volData, color: YELLOW }]} />
      <text transform="translate(15,1651) rotate(-90)" textAnchor="middle" dy="0.35em" fill={TXT}
        fontFamily={FONT} fontWeight="bold" fontSize={5}>Volatility Index</text>
    </svg>
  );
}
